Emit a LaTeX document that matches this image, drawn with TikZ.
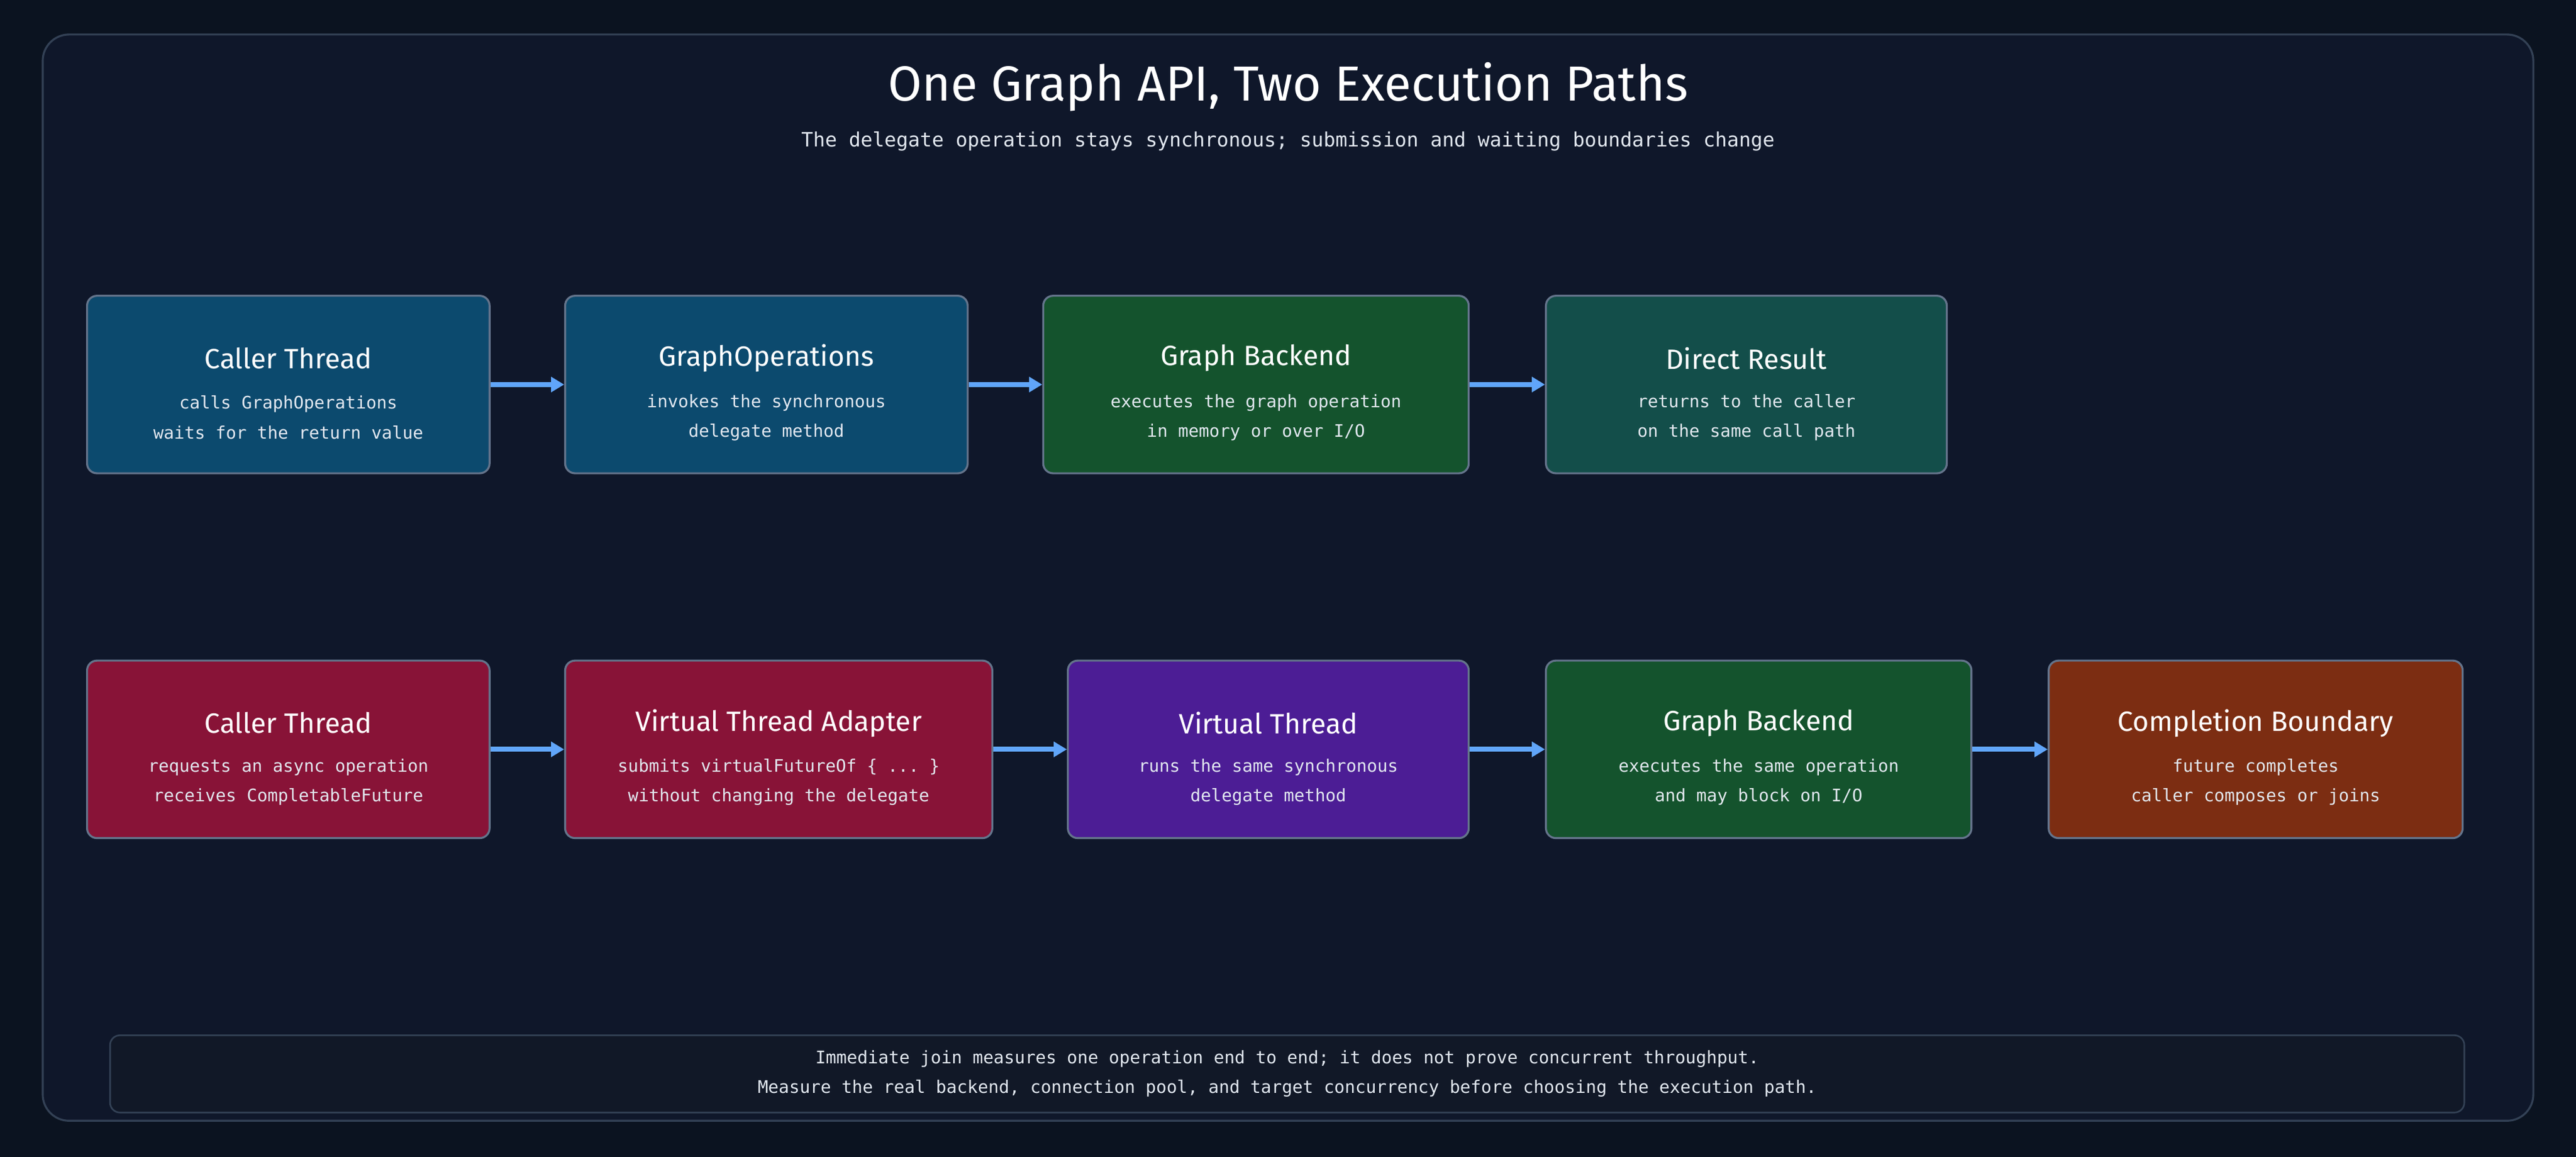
\documentclass[tikz,border=0pt]{standalone}
\usepackage{fontspec}
\setmainfont{Fira Sans}
\setmonofont{DejaVu Sans Mono}
\usetikzlibrary{arrows.meta}
\definecolor{bg}{HTML}{0B1320}
\definecolor{panel}{HTML}{0F172A}
\definecolor{pborder}{HTML}{334155}
\definecolor{nborder}{HTML}{64748B}
\definecolor{cblue}{HTML}{0C4A6E}
\definecolor{cgreen}{HTML}{14532D}
\definecolor{cteal}{HTML}{134E4A}
\definecolor{cred}{HTML}{881337}
\definecolor{cpurple}{HTML}{4C1D95}
\definecolor{corange}{HTML}{7C2D12}
\definecolor{arr}{HTML}{60A5FA}
\definecolor{txt}{HTML}{E2E8F0}
\definecolor{note}{HTML}{111827}
\newcommand{\mybox}[8]{%
 \node[box,fill=#2,minimum width=#5] (#1) at (#3,#4) {};
 \node[ttl] (#1t) at (#3,#4-16) {#6};
 \node[sub] (#1s) at (#3,#4+20) {#7\\#8};}
\begin{document}
\begin{tikzpicture}[x=1pt,y=-1pt,
  box/.style={draw=nborder,line width=1.2pt,rounded corners=6pt,minimum height=108pt,inner sep=0pt},
  ttl/.style={text=white,font=\fontsize{17}{20}\selectfont},
  sub/.style={text=txt,font=\ttfamily\fontsize{10.5}{18}\selectfont,align=center},
  con/.style={draw=arr,line width=3pt,-{Triangle[length=8pt,width=9pt]}}]
\fill[bg] (0,0) rectangle (1568,704);
\useasboundingbox (0,0) rectangle (1568,704);
\draw[pborder,fill=panel,line width=1.2pt,rounded corners=16pt] (26,21) rectangle (1542,682);
\node[text=white,font=\fontsize{30}{34}\selectfont] (title) at (784,53) {One Graph API, Two Execution Paths};
\node[text=txt,font=\ttfamily\fontsize{12}{16}\selectfont] (subtitle) at (784,86) {The delegate operation stays synchronous; submission and waiting boundaries change};
% row 1
\mybox{a1}{cblue}{175.5}{234}{245}{Caller Thread}{calls GraphOperations}{waits for the return value}
\mybox{a2}{cblue}{466.5}{234}{245}{GraphOperations}{invokes the synchronous}{delegate method}
\mybox{a3}{cgreen}{764.5}{234}{259}{Graph Backend}{executes the graph operation}{in memory or over I/O}
\mybox{a4}{cteal}{1063}{234}{244}{Direct Result}{returns to the caller}{on the same call path}
% row 2
\mybox{b1}{cred}{175.5}{456}{245}{Caller Thread}{requests an async operation}{receives CompletableFuture}
\mybox{b2}{cred}{474}{456}{260}{Virtual Thread Adapter}{submits virtualFutureOf \{ ... \}}{without changing the delegate}
\mybox{b3}{cpurple}{772}{456}{244}{Virtual Thread}{runs the same synchronous}{delegate method}
\mybox{b4}{cgreen}{1070.5}{456}{259}{Graph Backend}{executes the same operation}{and may block on I/O}
\mybox{b5}{corange}{1373}{456}{252}{Completion Boundary}{future completes}{caller composes or joins}
\draw[con] (a1) -- (a2);
\draw[con] (a2) -- (a3);
\draw[con] (a3) -- (a4);
\draw[con] (b1) -- (b2);
\draw[con] (b2) -- (b3);
\draw[con] (b3) -- (b4);
\draw[con] (b4) -- (b5);
\node[draw=pborder,fill=note,line width=1pt,rounded corners=6pt,minimum width=1433pt,minimum height=47pt,inner sep=0pt,
  text=txt,font=\ttfamily\fontsize{10.6}{18}\selectfont,align=center] (foot) at (783.5,653.5)
  {Immediate join measures one operation end to end; it does not prove concurrent throughput.\\Measure the real backend, connection pool, and target concurrency before choosing the execution path.};
\end{tikzpicture}
\end{document}
